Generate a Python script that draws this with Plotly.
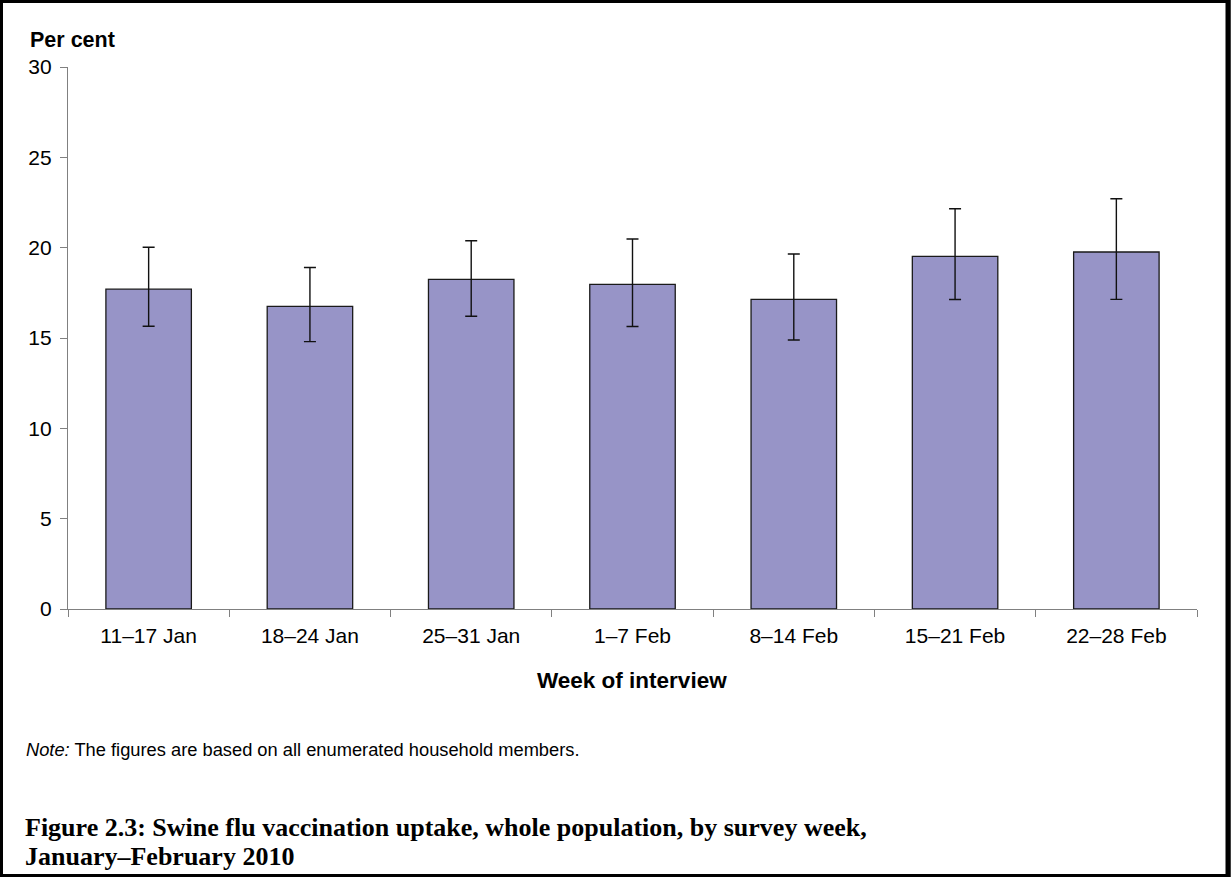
import plotly.graph_objects as go

weeks = ["11–17 Jan", "18–24 Jan", "25–31 Jan", "1–7 Feb", "8–14 Feb", "15–21 Feb", "22–28 Feb"]
uptake = [17.7, 16.75, 18.25, 17.97, 17.14, 19.52, 19.76]
upper = [20.02, 18.9, 20.38, 20.48, 19.65, 22.15, 22.71]
lower = [15.65, 14.8, 16.2, 15.64, 14.89, 17.13, 17.14]

err_plus = [u - v for u, v in zip(upper, uptake)]
err_minus = [v - l for v, l in zip(uptake, lower)]

W, H = 1231, 877
L, R, T, B = 68, 34, 67, 268
PW, PH = W - L - R, H - T - B


def px(xp):
    return (xp - L) / PW


def py(yp):
    return (H - B - yp) / PH


fig = go.Figure()
fig.add_trace(go.Bar(
    x=weeks, y=uptake,
    marker=dict(color="#9794C7", line=dict(color="#1a1a1a", width=1.3)),
    error_y=dict(type="data", symmetric=False, array=err_plus, arrayminus=err_minus,
                 color="#111111", thickness=1.4, width=6),
    hoverinfo="skip",
))

axis_font = dict(family="Liberation Sans, Arial, sans-serif", size=21, color="#000000")

fig.update_layout(
    width=W, height=H,
    margin=dict(l=L, r=R, t=T, b=B, pad=0),
    paper_bgcolor="white", plot_bgcolor="white",
    bargap=0.47,
    showlegend=False,
    font=axis_font,
    xaxis=dict(
        type="category", range=[-0.5, 6.5],
        showline=True, linecolor="#808080", linewidth=1.3,
        ticks="outside", tickson="boundaries", ticklen=7, tickcolor="#808080", tickwidth=1.3,
        showgrid=False, zeroline=False,
        tickfont=axis_font, ticklabelstandoff=8,
    ),
    yaxis=dict(
        range=[0, 30], tickvals=[0, 5, 10, 15, 20, 25, 30],
        showline=True, linecolor="#808080", linewidth=1.3,
        ticks="outside", ticklen=7, tickcolor="#808080", tickwidth=1.3,
        showgrid=False, zeroline=False,
        tickfont=axis_font, ticklabelstandoff=4,
    ),
)

sans = "Liberation Sans, Arial, sans-serif"
serif = "Liberation Serif, Times New Roman, serif"
annos = [
    dict(text="<b>Per cent</b>", x=px(28), y=py(40), xanchor="left", yanchor="middle",
         font=dict(family=sans, size=21.5, color="#000")),
    dict(text="<b>Week of interview</b>", x=px(632), y=py(680), xanchor="center", yanchor="middle",
         font=dict(family=sans, size=22.5, color="#000")),
    dict(text="<i>Note:</i> The figures are based on all enumerated household members.",
         x=px(24), y=py(749), xanchor="left", yanchor="middle",
         font=dict(family=sans, size=18.3, color="#000")),
    dict(text="<b>Figure 2.3: Swine flu vaccination uptake, whole population, by survey week,</b>",
         x=px(23), y=py(827), xanchor="left", yanchor="middle",
         font=dict(family=serif, size=26, color="#000")),
    dict(text="<b>January–February 2010</b>",
         x=px(23), y=py(856), xanchor="left", yanchor="middle",
         font=dict(family=serif, size=26, color="#000")),
]
for a in annos:
    a.update(xref="paper", yref="paper", showarrow=False)
    fig.add_annotation(**a)

# outer frame
fig.add_shape(type="rect", xref="paper", yref="paper",
              x0=px(1.5), x1=px(W - 2), y0=py(H - 1.5), y1=py(1.5),
              line=dict(color="black", width=3), fillcolor="rgba(0,0,0,0)", layer="above")
fig.add_shape(type="line", xref="paper", yref="paper",
              x0=px(W - 3), x1=px(W - 3), y0=py(H), y1=py(0),
              line=dict(color="black", width=5), layer="above")

fig.write_html("out.html", config={"displayModeBar": False},
               post_script="document.body.style.margin='0';document.body.style.padding='0';")
